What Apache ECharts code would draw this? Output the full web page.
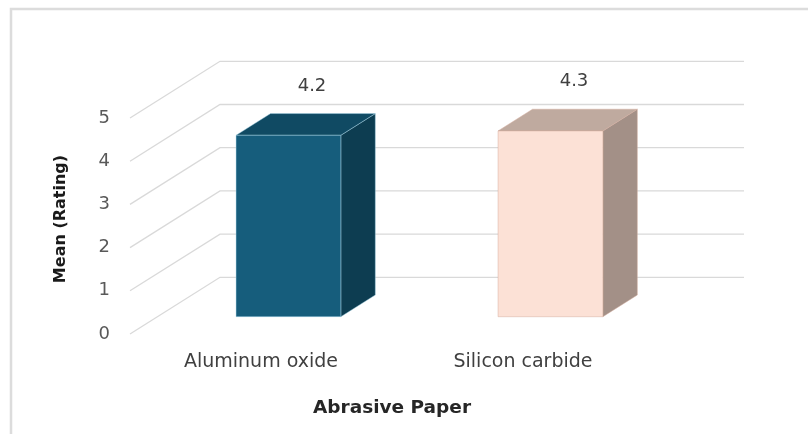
<!DOCTYPE html>
<html>
<head>
<meta charset="utf-8">
<script src="https://cdn.jsdelivr.net/npm/echarts@6/dist/echarts.min.js"></script>
<style>
  html, body { margin: 0; padding: 0; background: #ffffff; }
  #chart { width: 808px; height: 434px; }
</style>
</head>
<body>
<div id="chart"></div>
<script>
// Mean rating per abrasive paper type
const categories = ['Aluminum oxide', 'Silicon carbide'];
const meanRatings = [4.2, 4.3];
const yTicks = [0, 1, 2, 3, 4, 5];

// Oblique "3D" projection: depth vector of the floor, in pixels
const DEPTH_X = 90;
const DEPTH_Y = -56.7;
// Bars sit between these fractions of the floor depth
const BAR_FRONT = 0.305;
const BAR_BACK = 0.688;
const BAR_WIDTH_RATIO = 0.4;

const faceColors = [
  { front: '#165D7C', top: '#104A63', side: '#0D3D51', edge: 'rgba(170,215,235,0.55)' },
  { front: '#FCE1D6', top: '#BFAA9F', side: '#A39087', edge: 'rgba(210,170,155,0.6)' }
];

const FONT = '"DejaVu Sans", sans-serif';

const chart = echarts.init(document.getElementById('chart'), null, { renderer: 'canvas' });

function gridLineItem(params, api) {
  const rect = params.coordSys;
  const p = api.coord([0, api.value(0)]);
  const y = p[1];
  const left = rect.x;
  const right = rect.x + rect.width;
  return {
    type: 'polyline',
    shape: {
      points: [
        [left, y],
        [left + DEPTH_X, y + DEPTH_Y],
        [right + DEPTH_X, y + DEPTH_Y]
      ]
    },
    style: { stroke: '#D9D9D9', lineWidth: 1.3, fill: null },
    silent: true
  };
}

function barItem(params, api) {
  const idx = api.value(0);
  const val = api.value(1);
  const base = api.coord([idx, 0]);
  const top = api.coord([idx, val]);
  const band = api.size([1, 0])[0];
  const w = band * BAR_WIDTH_RATIO;
  const c = faceColors[idx % faceColors.length];

  const fx = DEPTH_X * BAR_FRONT;
  const fy = DEPTH_Y * BAR_FRONT;
  const dx = DEPTH_X * (BAR_BACK - BAR_FRONT);
  const dy = DEPTH_Y * (BAR_BACK - BAR_FRONT);

  const x0 = base[0] - w / 2 + fx;
  const x1 = x0 + w;
  const yb = base[1] + fy;
  const yt = top[1] + fy;

  return {
    type: 'group',
    children: [
      {
        type: 'polygon',
        shape: { points: [[x1, yt], [x1 + dx, yt + dy], [x1 + dx, yb + dy], [x1, yb]] },
        style: { fill: c.side, stroke: c.edge, lineWidth: 0.8 }
      },
      {
        type: 'polygon',
        shape: { points: [[x0, yt], [x1, yt], [x1 + dx, yt + dy], [x0 + dx, yt + dy]] },
        style: { fill: c.top, stroke: c.edge, lineWidth: 0.8 }
      },
      {
        type: 'rect',
        shape: { x: x0, y: yt, width: w, height: yb - yt },
        style: { fill: c.front, stroke: c.edge, lineWidth: 0.8 }
      },
      {
        type: 'text',
        style: {
          text: String(val),
          x: base[0] + DEPTH_X * 0.5 + 6,
          y: top[1] + DEPTH_Y * BAR_BACK - 27.5,
          fill: '#404040',
          font: '18px ' + FONT,
          align: 'center',
          verticalAlign: 'middle'
        }
      }
    ]
  };
}

const option = {
  backgroundColor: '#ffffff',
  animation: false,
  grid: { left: 130, right: 154, top: 118, bottom: 100, containLabel: false },
  xAxis: {
    type: 'category',
    data: categories,
    axisLine: { show: false },
    axisTick: { show: false },
    axisLabel: { margin: 19, color: '#404040', fontFamily: FONT, fontSize: 19 },
    name: 'Abrasive Paper',
    nameLocation: 'middle',
    nameGap: 65,
    nameTextStyle: {
      fontFamily: FONT,
      fontSize: 18.5,
      fontWeight: 'bold',
      color: '#262626'
    }
  },
  yAxis: {
    type: 'value',
    min: 0,
    max: 5,
    interval: 1,
    axisLine: { show: false },
    axisTick: { show: false },
    splitLine: { show: false },
    axisLabel: { margin: 20, color: '#595959', fontFamily: FONT, fontSize: 18 },
    name: 'Mean (Rating)',
    nameLocation: 'middle',
    nameGap: 61,
    nameTextStyle: {
      fontFamily: FONT,
      fontSize: 16,
      fontWeight: 'bold',
      color: '#1a1a1a',
      padding: [0, 0, 0, 14]
    }
  },
  graphic: [
    {
      type: 'polyline',
      silent: true,
      shape: { points: [[11, 434], [11, 9], [808, 9]] },
      style: { stroke: '#DCDCDC', lineWidth: 2.5, fill: null }
    }
  ],
  series: [
    {
      type: 'custom',
      name: 'gridlines',
      renderItem: gridLineItem,
      data: yTicks.map(function (t) { return [t]; }),
      encode: { y: 0 },
      z: 1,
      silent: true
    },
    {
      type: 'custom',
      name: 'Mean (Rating)',
      renderItem: barItem,
      data: meanRatings.map(function (v, i) { return [i, v]; }),
      encode: { x: 0, y: 1 },
      z: 2
    }
  ]
};

chart.setOption(option);
</script>
</body>
</html>
